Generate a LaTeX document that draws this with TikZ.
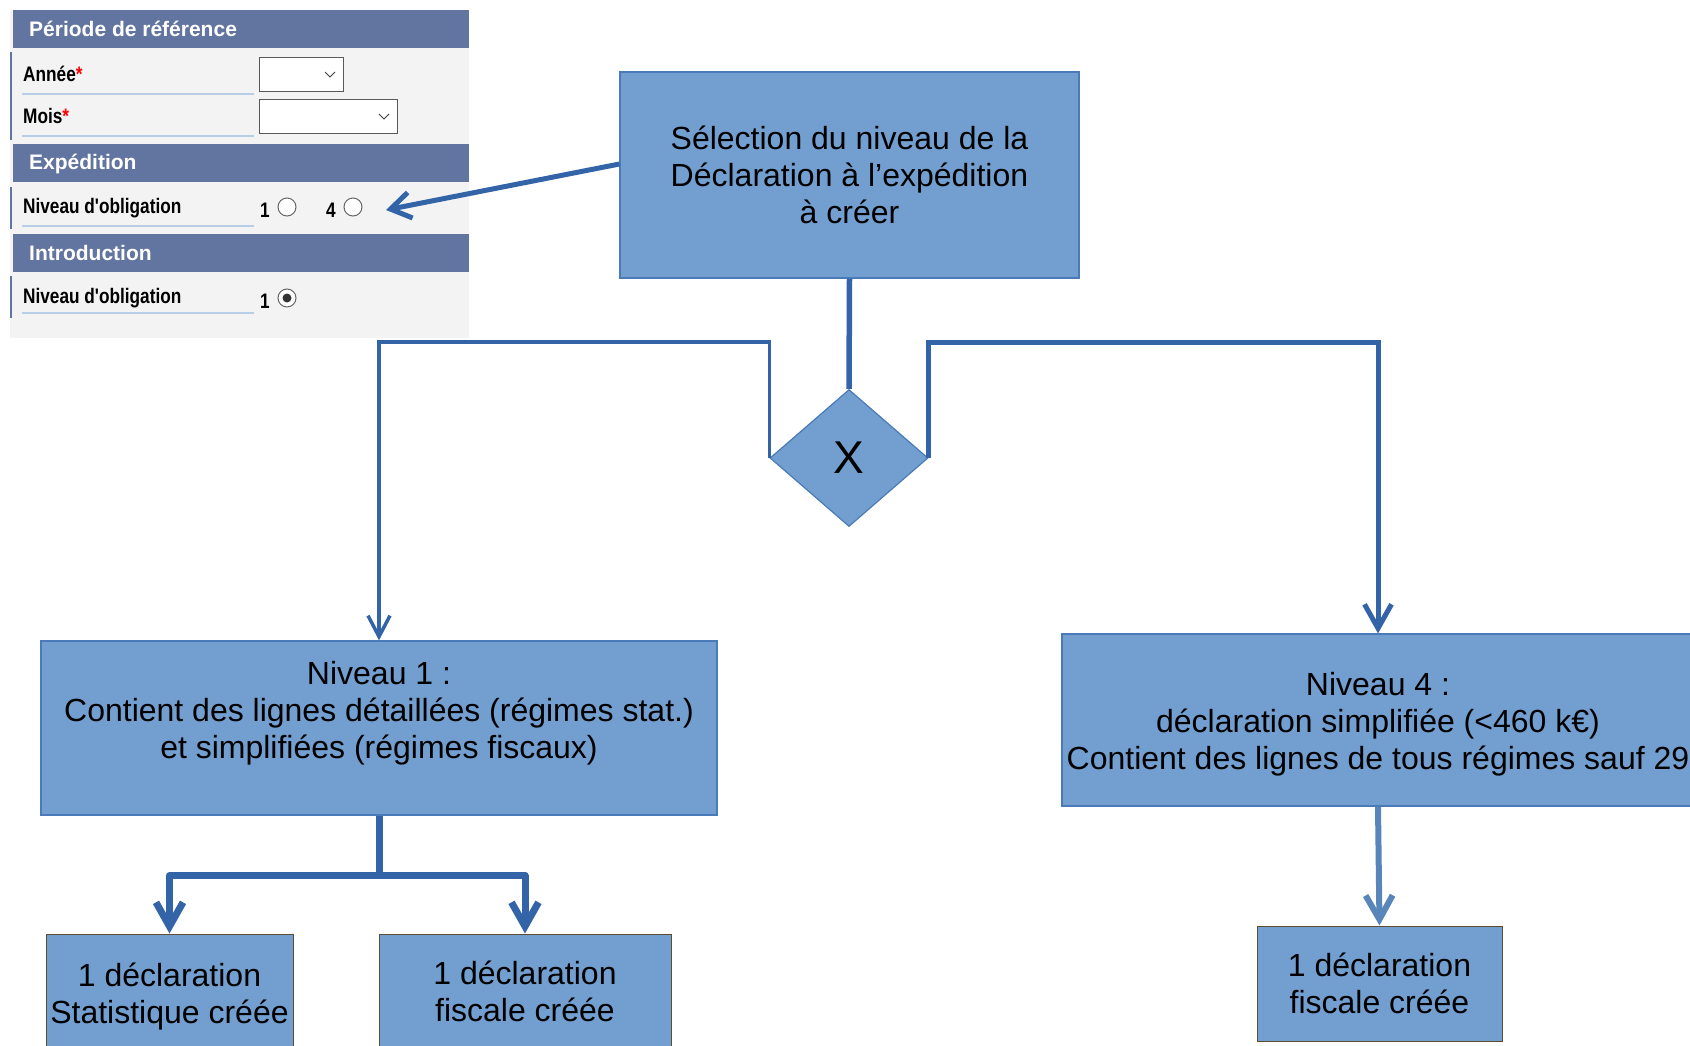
\documentclass[tikz,border=0pt]{standalone}
\usepackage{fontspec}
\setmainfont{Liberation Sans}
\newfontfamily\formfont[FakeStretch=0.82]{Liberation Sans}
\usetikzlibrary{arrows.meta,shapes.geometric}
\definecolor{boxfill}{RGB}{114,159,207}
\definecolor{boxline}{RGB}{74,122,184}
\definecolor{flowline}{RGB}{52,100,168}
\definecolor{flowlight}{RGB}{88,134,186}
\definecolor{formhead}{RGB}{98,116,160}
\definecolor{formback}{RGB}{243,243,243}
\definecolor{formrule}{RGB}{184,206,230}
\definecolor{bordbrun}{RGB}{92,76,50}
\tikzset{
	etape/.style={draw=boxline, fill=boxfill, line width=1.2pt, align=center, inner sep=0pt, font=\fontsize{32}{37}\selectfont},
	decl/.style={etape, draw=bordbrun, line width=1pt},
	porte/.style={diamond, draw=boxline, fill=boxfill, line width=1.2pt, inner sep=0pt, minimum width=158pt, minimum height=137pt, font=\fontsize{46}{50}\selectfont},
	entete/.style={anchor=west, text=white, inner sep=0pt, font=\bfseries\fontsize{21}{24}\selectfont},
	champ/.style={anchor=base west, inner sep=0pt, font=\formfont\bfseries\fontsize{21}{24}\selectfont},
	radio/.style={draw=gray!80!black, fill=white, line width=1pt},
	liste/.style={draw=gray!70!black, fill=white, line width=1pt},
	trait/.style={draw=flowline, line width=5pt},
	fleche/.style={trait, -{Straight Barb[length=24pt,width=27pt]}}
}

\begin{document}
\begin{tikzpicture}[x=10pt, y=-10pt]
			\useasboundingbox (0,0) rectangle (169,104.6);
			\clip (0,0) rectangle (169,104.6);
			%%%%% START %%%%%
			\fill[formback] (1,1) rectangle (46.9,33.8);
			
			\fill[formhead] (1.3,1) rectangle (46.9,4.8);
			\node[entete] (hperiode) at (2.9,2.9) {Période de référence};
			\draw[formhead, line width=2pt] (1.1,5.2) -- (1.1,14);
			\node[champ] (lannee) at (2.3,8.2) {Année\textcolor{red}{*}};
			\draw[formrule, line width=1.5pt] (2.2,9.4) -- (25.4,9.4);
			\draw[liste] (25.9,5.8) rectangle (34.3,9.2);
			\draw[gray!50!black, line width=1pt] (32.5,7.2) -- (33,7.7) -- (33.5,7.2);
			\node[champ] (lmois) at (2.3,12.4) {Mois\textcolor{red}{*}};
			\draw[formrule, line width=1.5pt] (2.2,13.6) -- (25.4,13.6);
			\draw[liste] (25.9,10) rectangle (39.7,13.4);
			\draw[gray!50!black, line width=1pt] (37.9,11.4) -- (38.4,11.9) -- (38.9,11.4);
			
			\fill[formhead] (1.3,14.4) rectangle (46.9,18.2);
			\node[entete] (hexped) at (2.9,16.4) {Expédition};
			\draw[formhead, line width=2pt] (1.1,18.7) -- (1.1,22.9);
			\node[champ] (lniveau) at (2.3,21.3) {Niveau d'obligation};
			\draw[formrule, line width=1.5pt] (2.2,22.6) -- (25.4,22.6);
			\node[champ] (un) at (26,21.8) {1};
			\draw[radio] (28.7,20.7) circle (0.9);
			\node[champ] (quatre) at (32.6,21.8) {4};
			\draw[radio] (35.3,20.7) circle (0.9);
			\coordinate (radio4) at (38.6,21);
			
			\fill[formhead] (1.3,23.4) rectangle (46.9,27.2);
			\node[entete] (hintro) at (2.9,25.3) {Introduction};
			\draw[formhead, line width=2pt] (1.1,27.6) -- (1.1,31.8);
			\node[champ] (lniveaub) at (2.3,30.3) {Niveau d'obligation};
			\draw[formrule, line width=1.5pt] (2.2,31.3) -- (25.4,31.3);
			\node[champ] (unb) at (26,30.8) {1};
			\draw[radio] (28.7,29.8) circle (0.9);
			\fill[black!80] (28.7,29.8) circle (0.45);
			
			\node[etape, minimum width=459pt, minimum height=206pt] (choix) at (84.95,17.5) {Sélection du niveau de la\\Déclaration à l’expédition\\à créer};
			\node[porte] (xor) at (84.9,45.8) {X};
			
			\node[etape, minimum width=676pt, minimum height=174pt] (niv1) at (37.9,72.8) {Niveau 1 :\\Contient des lignes détaillées (régimes stat.)\\et simplifiées (régimes fiscaux)\\~};
			\node[etape, minimum width=632pt, minimum height=172pt] (niv4) at (137.8,72) {\rule{0pt}{32pt}Niveau 4 :\\déclaration simplifiée (<460 k€)\\Contient des lignes de tous régimes sauf 29};
			
			\node[decl, minimum width=247pt, minimum height=115pt] (decstat) at (16.95,99.15) {\rule{0pt}{33pt}1 déclaration\\Statistique créée};
			\node[decl, minimum width=292pt, minimum height=115pt] (decfisc) at (52.5,99.15) {1 déclaration\\fiscale créée};
			\node[decl, minimum width=245pt, minimum height=115pt] (decfiscb) at (137.95,98.35) {1 déclaration\\fiscale créée};
			
			\draw[fleche, -{Straight Barb[length=20pt,width=26pt]}] ([yshift=11pt]choix.west) -- (radio4);
			\draw[trait, line width=5.5pt] (choix.south) -- (xor.north);
			\draw[fleche, line width=3.5pt, -{Straight Barb[length=21pt,width=22pt]}] (xor.west) -- ++(0,-11.6) -| (niv1.north);
			\draw[fleche] (xor.east) -- ++(0,-11.6) -| (niv4.north);
			
			\draw[fleche, line width=7pt, line join=round] (niv1.south) -- ++(0,6) -| (decstat.north);
			\draw[fleche, line width=7pt, line join=round] (niv1.south) -- ++(0,6) -| (decfisc.north);
			\draw[fleche, draw=flowlight, line width=6pt] (niv4.south) -- (decfiscb.north);
			%%%%% END %%%%%
		\end{tikzpicture}
\end{document}
